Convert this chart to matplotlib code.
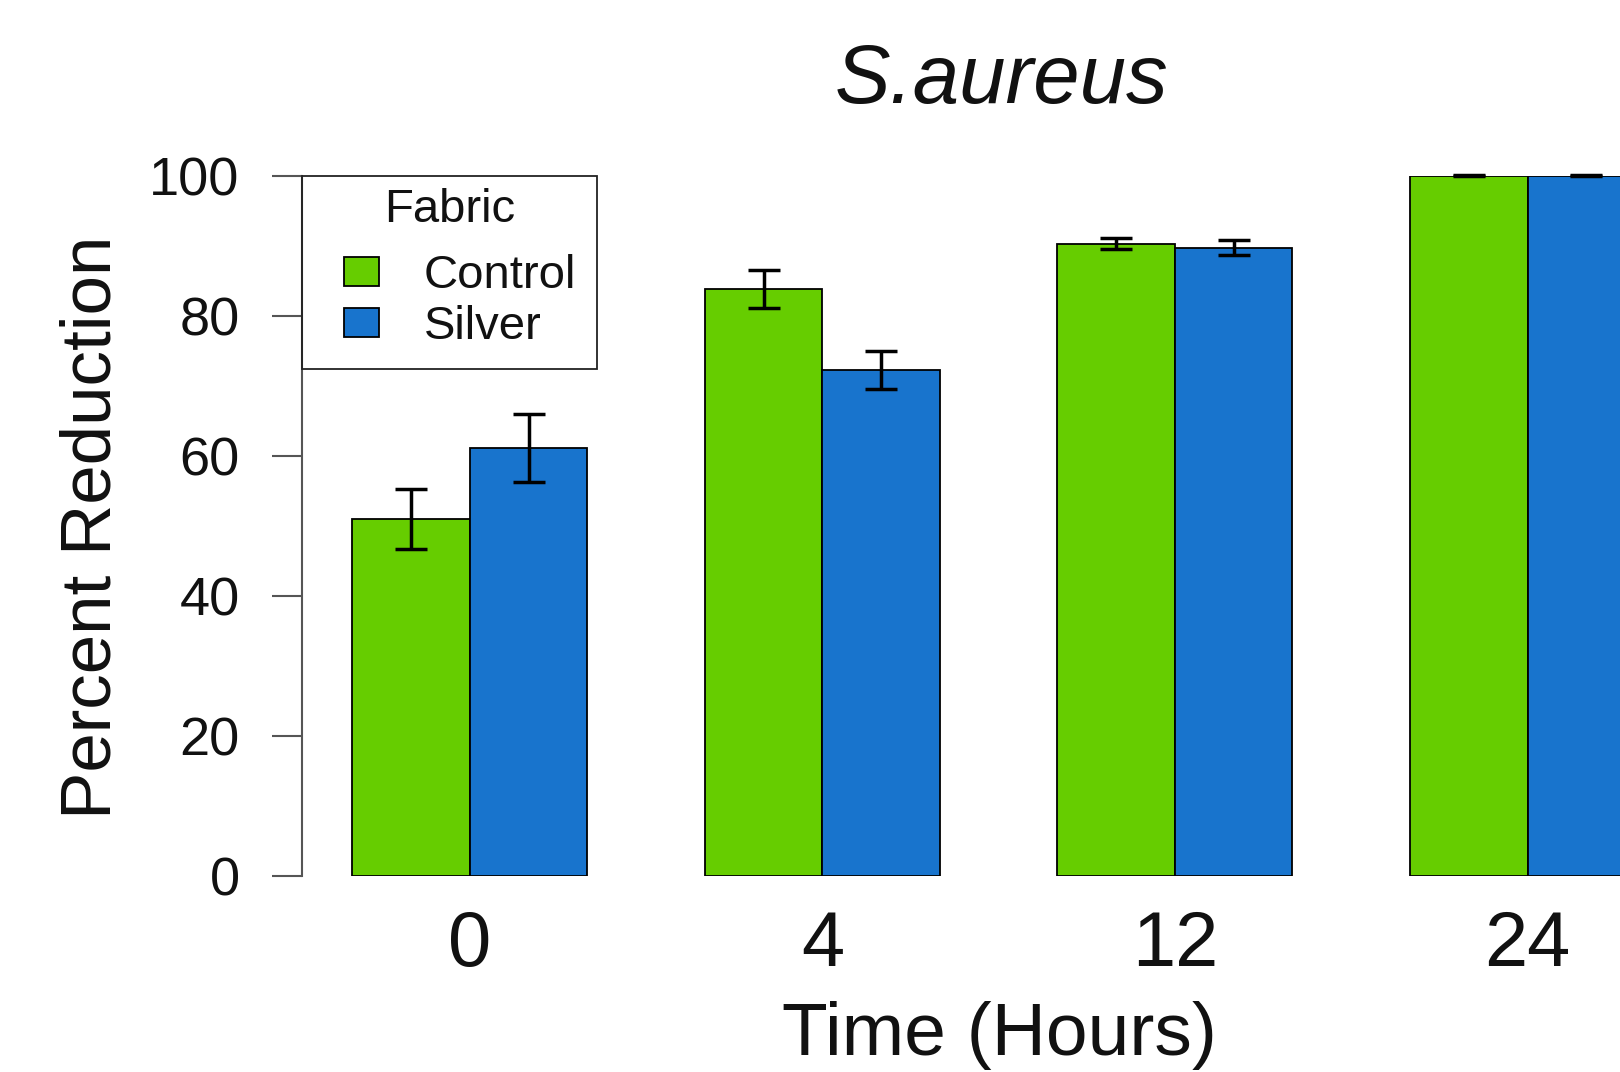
import numpy as np
import matplotlib
matplotlib.use("Agg")
import matplotlib.pyplot as plt
from matplotlib.patches import Rectangle

# data
hours = ["0", "4", "12", "24"]
control = [51.0, 83.8, 90.3, 100.0]
control_err = [4.3, 2.7, 0.8, 0.1]
silver = [61.1, 72.3, 89.7, 100.0]
silver_err = [4.8, 2.7, 1.1, 0.05]

green = "#66CD00"   # chartreuse3
blue = "#1874CD"    # dodgerblue3
ink = "#111111"

plt.rcParams["font.family"] = ["Liberation Sans", "DejaVu Sans"]

fig = plt.figure(figsize=(16.2, 10.72), dpi=100)
ax = fig.add_axes([0.1862, 0.1828, 0.8138, 0.6534])

x = np.arange(len(hours)) * 3.0
ax.bar(x - 0.5, control, width=1.0, color=green, edgecolor="black", linewidth=1.3, label="Control")
ax.bar(x + 0.5, silver, width=1.0, color=blue, edgecolor="black", linewidth=1.3, label="Silver")
ax.errorbar(x - 0.5, control, yerr=control_err, fmt="none", ecolor="black",
            elinewidth=2.5, capsize=11.5, capthick=2.5, clip_on=False)
ax.errorbar(x + 0.5, silver, yerr=silver_err, fmt="none", ecolor="black",
            elinewidth=2.5, capsize=11.5, capthick=2.5, clip_on=False)

ax.set_xlim(-1.432, 9.787)
ax.set_ylim(0, 100)

for s in ["top", "right", "bottom"]:
    ax.spines[s].set_visible(False)
ax.spines["left"].set_bounds(0, 100)
ax.spines["left"].set_color("#555555")
ax.spines["left"].set_linewidth(1.5)

ax.set_yticks([0, 20, 40, 60, 80, 100])
ax.tick_params(axis="y", length=21.6, width=1.5, color="#555555", pad=23,
               labelsize=39, labelcolor=ink)
ax.set_xticks(x)
ax.set_xticklabels(hours)
ax.tick_params(axis="x", length=0, pad=24, labelsize=56, labelcolor=ink)

# legend box drawn like R's legend(): frame, title, then the two keys
ax.add_patch(Rectangle((0.0, 0.7242), 0.2241, 0.2758, transform=ax.transAxes,
                       fill=False, edgecolor="#222222", linewidth=1.3, clip_on=False, zorder=5))
ax.text(0.1120, 0.9513, "Fabric", transform=ax.transAxes, fontsize=34,
        ha="center", va="center", color=ink)
leg = ax.legend(loc="upper left", bbox_to_anchor=(0.0321, 0.8877),
                borderaxespad=0, borderpad=0, fontsize=34, frameon=False,
                handlelength=0.746, handleheight=0.547, handletextpad=0.94,
                labelspacing=0.15)
for h in leg.legend_handles:
    h.set_edgecolor("black")
    h.set_linewidth(1.3)
for t in leg.get_texts():
    t.set_color(ink)

fig.text(0.618, 0.904, "S.aureus", fontsize=60, style="italic",
         ha="center", va="baseline", color=ink)
fig.text(0.617, 0.016, "Time (Hours)", fontsize=54, ha="center", va="baseline",
         color=ink)
fig.text(0.057, 0.508, "Percent Reduction", fontsize=51, rotation=90,
         ha="center", va="center", color=ink)

fig.savefig("out.png", dpi=100)
